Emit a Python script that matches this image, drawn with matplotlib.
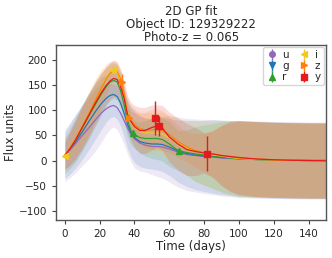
import matplotlib
matplotlib.use("Agg")
import matplotlib.pyplot as plt
import numpy as np

# GP prediction grid (days) and per-band mean / 1-sigma
times = [0, 3, 6, 10, 14, 18, 21, 24, 26, 28, 30, 32, 34, 36, 38, 40, 43, 46, 50,
         53, 56, 60, 65, 70, 75, 80, 85, 90, 95, 100, 110, 120, 130, 140, 150]

mean_u = [10, 21, 33, 50, 66, 83, 95, 104, 108, 110, 106, 95, 80, 65, 52, 43, 35, 31, 28,
          28, 27, 23, 17, 12, 10, 8, 7, 5, 4, 3, 2, 1, 0.5, 0, 0]
mean_g = [10, 23, 37, 57, 79, 100, 114, 125, 130, 132, 128, 115, 95, 72, 56, 46, 38, 35, 33,
          33, 32, 27, 19, 14, 11, 9, 8, 6, 5, 3.5, 2, 1, 0.5, 0, 0]
mean_r = [10, 24, 40, 65, 90, 115, 133, 149, 157, 160, 157, 140, 112, 80, 60, 52, 46, 44, 44,
          44, 42, 33, 20, 16, 13, 11, 9, 7, 5, 4, 2, 1, 0.5, 0, 0]
mean_i = [10, 25, 42, 68, 95, 124, 146, 166, 176, 181, 176, 158, 128, 97, 78, 68, 59, 55, 55,
          55, 53, 45, 34, 25, 19, 14, 11, 9, 6, 4, 2, 1, 0.5, 0, 0]
mean_z = [10, 25, 42, 68, 95, 124, 145, 164, 174, 180, 178, 164, 135, 92, 80, 72, 64, 61, 62,
          62, 60, 52, 38, 27, 20, 16, 13, 10, 7, 5, 3, 1.5, 0.5, 0, 0]
mean_y = [10, 24, 40, 66, 92, 118, 136, 151, 159, 164, 162, 148, 125, 92, 78, 68, 60, 60, 66,
          69, 65, 47, 33, 22, 18, 15, 13, 10, 8, 6, 3, 1.5, 0.5, 0, -0.5]

sig_u = [52, 55, 58, 60, 62, 62, 58, 50, 45, 43, 44, 46, 48, 52, 55, 58, 56, 54, 56,
         60, 62, 66, 70, 72, 73, 74, 75, 76, 76, 77, 77, 77, 77, 77, 77]
sig_g = [46, 50, 53, 55, 56, 55, 52, 47, 45, 44, 45, 46, 47, 48, 49, 50, 50, 50, 50,
         52, 54, 57, 62, 66, 69, 71, 73, 74, 75, 76, 76, 76, 76, 76, 76]
sig_r = [36, 40, 44, 46, 46, 44, 41, 38, 37, 36, 36, 36, 35, 33, 29, 28, 30, 35, 40,
         42, 43, 45, 40, 45, 55, 60, 65, 70, 73, 75, 75, 75, 75, 75, 75]
sig_i = [8, 16, 24, 32, 35, 33, 28, 20, 15, 12, 15, 20, 25, 30, 33, 36, 38, 40, 41,
         42, 43, 46, 50, 55, 60, 64, 68, 71, 73, 75, 75, 75, 75, 75, 75]
sig_z = [27, 33, 38, 42, 43, 42, 37, 30, 24, 20, 17, 14, 15, 14, 18, 24, 30, 35, 40,
         42, 40, 35, 32, 30, 34, 38, 48, 60, 68, 73, 75, 75, 75, 75, 75]
sig_y = [28, 34, 39, 43, 44, 43, 40, 38, 37, 36, 36, 36, 36, 36, 38, 42, 46, 46, 45,
         42, 45, 50, 52, 52, 48, 40, 46, 60, 70, 74, 75, 75, 75, 75, 75]

# observations
obs_u_t, obs_u_f, obs_u_e = [], [], []
obs_g_t, obs_g_f, obs_g_e = [], [], []
obs_r_t, obs_r_f, obs_r_e = [39.0, 65.3], [55, 18.6], [5, 5]
obs_i_t, obs_i_f, obs_i_e = [0.0, 27.9], [10, 181], [5, 7]
obs_z_t, obs_z_f, obs_z_e = [32.7, 36.6], [156, 85], [17, 6]
obs_y_t, obs_y_f, obs_y_e = [51.9, 54.2, 81.6], [84, 68.6, 14], [34, 20, 34]

bands = ['u', 'g', 'r', 'i', 'z', 'y']
colors = ['#9467bd', '#1f77b4', '#2ca02c', '#f0c81e', '#ff7f0e', '#e41a1c']
markers = ['o', 'v', '^', '<', '>', 's']
means = [mean_u, mean_g, mean_r, mean_i, mean_z, mean_y]
sigs = [sig_u, sig_g, sig_r, sig_i, sig_z, sig_y]
obs = [(obs_u_t, obs_u_f, obs_u_e), (obs_g_t, obs_g_f, obs_g_e),
       (obs_r_t, obs_r_f, obs_r_e), (obs_i_t, obs_i_f, obs_i_e),
       (obs_z_t, obs_z_f, obs_z_e), (obs_y_t, obs_y_f, obs_y_e)]

plt.rcParams['text.color'] = '#262626'
plt.rcParams['axes.labelcolor'] = '#262626'

fig = plt.figure(figsize=(3.32, 2.58), dpi=100)
ax = fig.add_axes([0.169, 0.147, 0.813, 0.679])

t = np.array(times)
for b, c, m, mu, s, (ot, of, oe) in zip(bands, colors, markers, means, sigs, obs):
    mu = np.array(mu)
    s = np.array(s)
    ax.fill_between(t, mu - s, mu + s, color=c, alpha=0.15, lw=0)
    ax.plot(t, mu, color=c, lw=0.9)
    ax.errorbar(ot, of, yerr=oe, fmt=m, color=c, ms=4, elinewidth=1, label=b)

ax.set_xlim(-5, 150)
ax.set_ylim(-119, 231)
ax.set_xticks(range(0, 141, 20))
ax.set_yticks(range(-100, 201, 50))
ax.tick_params(labelsize=7.5, length=3, width=0.8, colors='#444444', labelcolor='#262626')
for sp in ax.spines.values():
    sp.set_color('#555555')
    sp.set_linewidth(1.0)
ax.set_xlabel('Time (days)', fontsize=8.5, labelpad=1)
ax.set_ylabel('Flux units', fontsize=8.5, labelpad=1)
ax.set_title('2D GP fit\nObject ID: 129329222\nPhoto-z = 0.065', fontsize=8.5,
             linespacing=1.0, pad=3)
ax.legend(ncol=2, loc='upper right', fontsize=7.5, handlelength=1.0,
          handletextpad=0.5, columnspacing=1.0, labelspacing=0.1,
          borderpad=0.3, borderaxespad=0.2)

fig.savefig('out.png', dpi=100)
